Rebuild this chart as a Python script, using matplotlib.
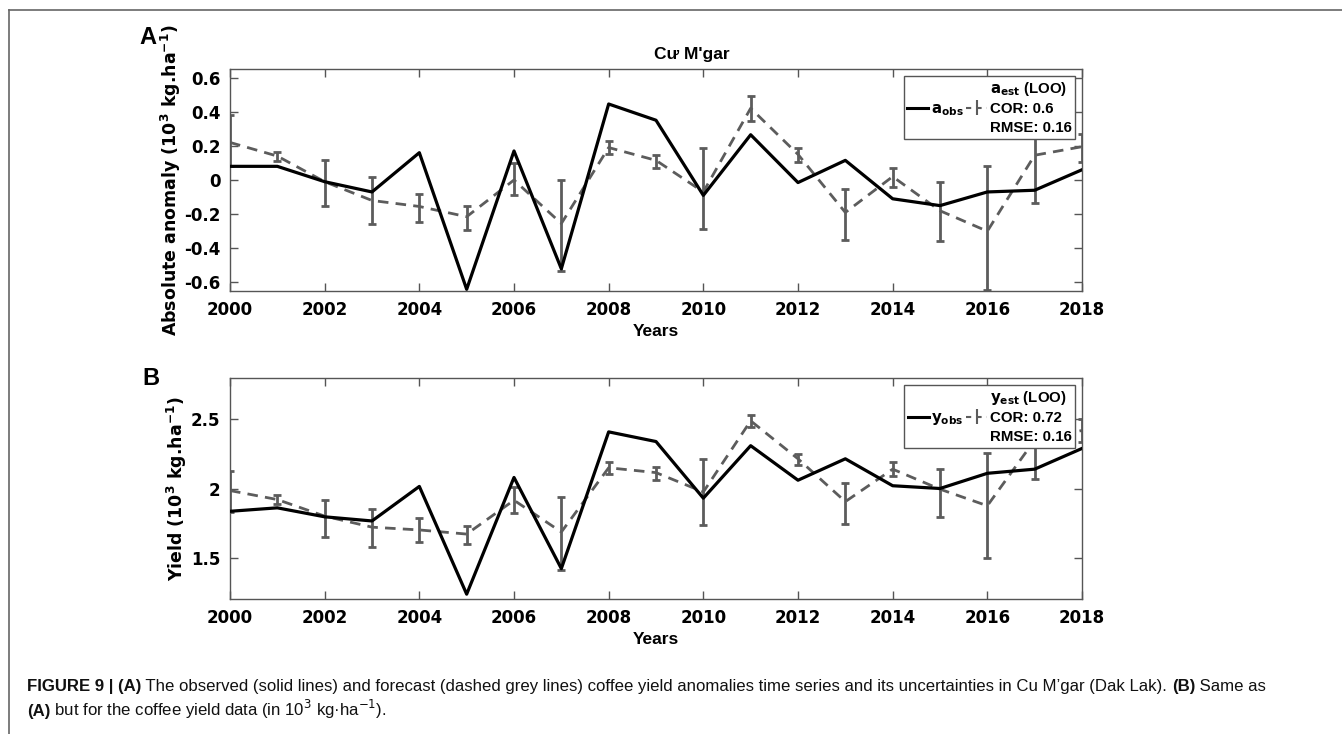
import matplotlib
matplotlib.use("Agg")
import matplotlib.pyplot as plt
import numpy as np
from matplotlib.lines import Line2D

# ---------------- data ----------------
years = list(range(2000, 2019))

a_obs = [0.08, 0.08, -0.01, -0.07, 0.16, -0.64, 0.17, -0.52, 0.445, 0.35,
         -0.09, 0.265, -0.015, 0.115, -0.11, -0.15, -0.07, -0.06, 0.06]
a_est = [0.22, 0.14, -0.01, -0.12, -0.155, -0.215, 0.0, -0.255, 0.19, 0.115,
         -0.07, 0.42, 0.15, -0.19, 0.02, -0.18, -0.30, 0.145, 0.195]
a_lo = [0.08, 0.11, -0.15, -0.255, -0.245, -0.29, -0.09, -0.53, 0.155, 0.07,
        -0.285, 0.345, 0.105, -0.35, -0.04, -0.355, -0.645, -0.135, 0.105]
a_hi = [0.38, 0.165, 0.12, 0.02, -0.08, -0.155, 0.10, 0.0, 0.23, 0.145,
        0.19, 0.49, 0.185, -0.055, 0.07, -0.01, 0.08, 0.43, 0.27]

y_obs = [1.835, 1.86, 1.795, 1.765, 2.015, 1.235, 2.08, 1.42, 2.41, 2.34,
         1.93, 2.31, 2.06, 2.215, 2.02, 2.0, 2.11, 2.14, 2.29]
y_est = [1.985, 1.92, 1.80, 1.72, 1.70, 1.67, 1.915, 1.685, 2.15, 2.115,
         1.975, 2.49, 2.215, 1.905, 2.14, 1.995, 1.875, 2.35, 2.42]
y_lo = [1.83, 1.89, 1.65, 1.58, 1.615, 1.60, 1.825, 1.41, 2.105, 2.065,
        1.735, 2.445, 2.17, 1.745, 2.09, 1.795, 1.495, 2.07, 2.34]
y_hi = [2.13, 1.95, 1.92, 1.855, 1.785, 1.73, 2.01, 1.94, 2.195, 2.155,
        2.21, 2.53, 2.25, 2.04, 2.195, 2.14, 2.26, 2.63, 2.50]

a_ticks = [-0.6, -0.4, -0.2, 0, 0.2, 0.4, 0.6]
a_ticklabels = ["-0.6", "-0.4", "-0.2", "0", "0.2", "0.4", "0.6"]
y_ticks = [1.5, 2, 2.5]
y_ticklabels = ["1.5", "2", "2.5"]
x_ticks = list(range(2000, 2019, 2))

a_stats = {"COR": "0.6", "RMSE": "0.16"}
y_stats = {"COR": "0.72", "RMSE": "0.16"}

# ---------------- style ----------------
plt.rcParams["font.family"] = ["DejaVu Sans"]
plt.rcParams["mathtext.fontset"] = "dejavusans"

GREY = "#5c5c5c"
SPINE = "#555555"
ARIAL = ["Liberation Sans", "DejaVu Sans"]

fig = plt.figure(figsize=(13.42, 7.34), dpi=100)

W, H = 1342, 734
def fx(px):
    return px / W
def fy(py):
    return 1 - py / H

ax_a = fig.add_axes([fx(230), fy(291), fx(1082) - fx(230), fy(69) - fy(291)])
ax_b = fig.add_axes([fx(230), fy(599), fx(1082) - fx(230), fy(378) - fy(599)])


def panel(ax, obs, est, lo, hi, ylim, yticks, yticklabels, ylabel, sym, stats):
    est_a = np.array(est)
    yerr = [est_a - np.array(lo), np.array(hi) - est_a]
    ax.plot(years, obs, color="black", lw=2.3, zorder=3)
    ax.errorbar(years, est, yerr=yerr, fmt="none", ecolor=GREY,
                elinewidth=2.0, capsize=3, capthick=2.0, zorder=2)
    ax.plot(years, est, color=GREY, lw=2.0, ls=(0, (3.8, 2.6)), zorder=2)
    ax.set_xlim(2000, 2018)
    ax.set_ylim(*ylim)
    ax.set_xticks(x_ticks)
    ax.set_xticklabels([str(t) for t in x_ticks], fontsize=12, fontweight="bold")
    ax.set_yticks(yticks)
    ax.set_yticklabels(yticklabels, fontsize=12, fontweight="bold")
    ax.tick_params(direction="in", length=6, width=1, top=True, right=True,
                   color=SPINE, pad=7)
    for s in ax.spines.values():
        s.set_color(SPINE)
        s.set_linewidth(1.0)
    ax.set_xlabel("Years", fontsize=12.5, fontweight="bold", family=ARIAL, labelpad=4)
    ax.set_ylabel(ylabel, fontsize=12.5, fontweight="bold", labelpad=1)

    # legend handles (line, dashed errorbar)
    h_obs = Line2D([], [], color="black", lw=2.2)
    h_est = ax.errorbar([], [], yerr=[], fmt="--", color=GREY, ecolor=GREY,
                        lw=1.5, elinewidth=1.5, capsize=2, capthick=1.5,
                        dashes=(2.5, 2.5))
    lab_obs = r"$\mathbf{%s_{obs}}$" % sym
    lab_est = (r"$\mathbf{%s_{est}}$ (LOO)" % sym + "\n" +
               "COR: %s\nRMSE: %s" % (stats["COR"], stats["RMSE"]))
    leg = ax.legend([h_obs, h_est], [lab_obs, lab_est], ncol=2, loc="upper right",
                    fancybox=False, framealpha=1, edgecolor=SPINE,
                    prop={"family": ARIAL, "weight": "bold", "size": 10.8},
                    handlelength=1.4, handletextpad=0.15, columnspacing=0.2,
                    borderpad=0.25, borderaxespad=0.45)
    for t in leg.get_texts():
        t.set_linespacing(1.45)
    leg.get_frame().set_linewidth(1.0)
    leg.set_zorder(5)


panel(ax_a, a_obs, a_est, a_lo, a_hi, (-0.65, 0.65), a_ticks, a_ticklabels,
      r"Absolute anomaly (10$^{\mathbf{3}}$ kg.ha$^{\mathbf{-1}}$)", "a", a_stats)
panel(ax_b, y_obs, y_est, y_lo, y_hi, (1.2, 2.8), y_ticks, y_ticklabels,
      r"Yield (10$^{\mathbf{3}}$ kg.ha$^{\mathbf{-1}}$)", "y", y_stats)

fig.text(fx(692), fy(55), "Cư M'gar", fontsize=12.5, fontweight="bold",
         family=ARIAL, ha="center", va="center")

fig.text(fx(148), fy(38), "A", fontsize=17, fontweight="bold", family=ARIAL,
         ha="center", va="center")
fig.text(fx(151), fy(378), "B", fontsize=17, fontweight="bold", family=ARIAL,
         ha="center", va="center")

# outer frame
frame_kw = dict(color="#666666", lw=1.2, transform=fig.transFigure)
fig.add_artist(Line2D([fx(9), fx(9)], [0, fy(10)], **frame_kw))
fig.add_artist(Line2D([fx(9), 1], [fy(10), fy(10)], **frame_kw))

# caption (mixed bold / regular pieces), placed on a common baseline
CAP = 12.1
renderer = fig.canvas.get_renderer()
def chain(pieces, x_px, y_px):
    x = x_px
    for txt, bold in pieces:
        t = fig.text(fx(x), fy(y_px), txt, va="baseline", ha="left",
                     fontsize=CAP, family=ARIAL,
                     fontweight="bold" if bold else "normal", color="#111111")
        x += t.get_window_extent(renderer).width

chain([("FIGURE 9 | (A)", True),
       (" The observed (solid lines) and forecast (dashed grey lines) coffee yield "
        "anomalies time series and its uncertainties in Cu M\u2019gar (Dak Lak). ", False),
       ("(B)", True),
       (" Same as", False)], 27, 691)
chain([("(A)", True),
       (" but for the coffee yield data (in 10$^{3}$ kg\u00b7ha$^{-1}$).", False)],
      27, 716)

fig.savefig("out.png", dpi=100)
